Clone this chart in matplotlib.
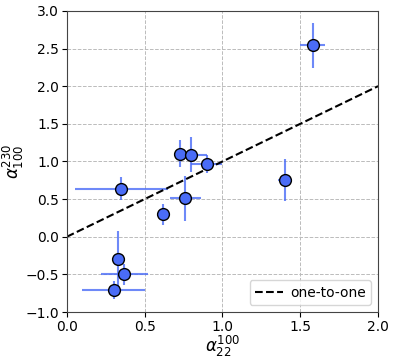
import matplotlib
matplotlib.use("Agg")
import matplotlib.pyplot as plt
import numpy as np

x = [1.58, 0.73, 0.80, 0.90, 1.40, 0.35, 0.76, 0.62, 0.33, 0.37, 0.30]
y = [2.54, 1.10, 1.09, 0.96, 0.75, 0.64, 0.51, 0.30, -0.30, -0.50, -0.71]
xerr = [0.08, 0.03, 0.10, 0.10, 0.045, 0.30, 0.10, 0.04, 0.02, 0.15, 0.20]
yerr = [0.30, 0.18, 0.23, 0.12, 0.28, 0.15, 0.30, 0.14, 0.38, 0.14, 0.12]
line_x = [0.0, 2.0]
line_y = [0.0, 2.0]

fig = plt.figure(figsize=(3.98, 3.62), dpi=100)
ax = fig.add_axes([0.168, 0.138, 0.782, 0.832])

ax.errorbar(x, y, xerr=xerr, yerr=yerr, fmt='none', ecolor='#4a6cf7', alpha=0.8,
            elinewidth=1.5, zorder=2)
ax.plot(x, y, 'o', markersize=8.5, markerfacecolor='#4a6cf7', markeredgecolor='black',
        markeredgewidth=1.0, linestyle='none', zorder=3)
ax.plot(line_x, line_y, '--', color='black', lw=1.5, label='one-to-one', zorder=2.5)

ax.set_xlim(0, 2.0)
ax.set_ylim(-1.0, 3.0)
ax.set_xticks(np.arange(0, 2.01, 0.5))
ax.set_yticks(np.arange(-1.0, 3.01, 0.5))
ax.grid(True, linestyle='--', color='#bbbbbb', linewidth=0.7)
ax.set_axisbelow(True)
for s in ax.spines.values():
    s.set_color('#444444')
ax.tick_params(labelsize=10, pad=2)
ax.set_xlabel(r'$\alpha_{22}^{100}$', fontsize=12, labelpad=0)
ax.set_ylabel(r'$\alpha_{100}^{230}$', fontsize=12, labelpad=0)
ax.legend(loc='lower right', fontsize=10, handlelength=2.0, handletextpad=0.5)

fig.savefig('out.png', dpi=100)
